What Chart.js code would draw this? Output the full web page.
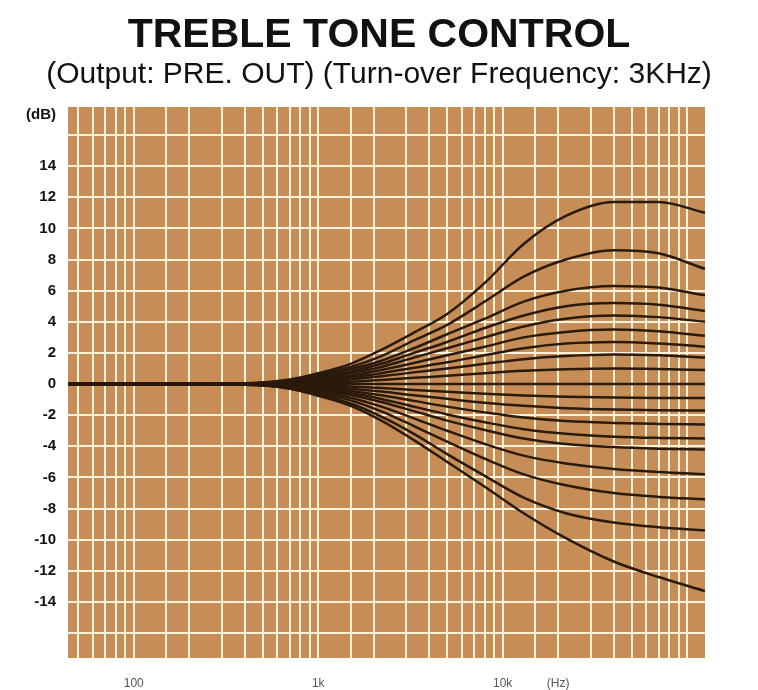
<!DOCTYPE html>
<html lang="en">

<head>
    <meta charset="UTF-8">
    <title>Treble Tone Control</title>
    <script src="https://cdn.jsdelivr.net/npm/chart.js"></script>
    <style>
        body { margin: 0; background: #fff; }
    </style>
</head>

<body>
    <canvas id="grafico" width="758" height="690"></canvas>

    <script>
        const freqs = [44, 400, 700, 1000, 1500, 2200, 3300, 5000, 8000, 13000, 22000, 40000, 70000, 125000];

        // treble boost positions (dB)
        const boost9 = [0, 0.05, 0.3, 0.7, 1.3, 2.2, 3.3, 4.5, 6.5, 9.0, 10.8, 11.7, 11.7, 11.0];
        const boost8 = [0, 0.04, 0.25, 0.6, 1.1, 1.8, 2.8, 3.8, 5.3, 6.9, 8.0, 8.6, 8.4, 7.4];
        const boost7 = [0, 0.03, 0.2, 0.5, 0.95, 1.5, 2.3, 3.2, 4.2, 5.3, 6.0, 6.3, 6.2, 5.7];
        const boost6 = [0, 0.03, 0.18, 0.42, 0.8, 1.3, 2.0, 2.7, 3.6, 4.4, 5.0, 5.2, 5.1, 4.7];
        const boost5 = [0, 0.02, 0.15, 0.36, 0.7, 1.1, 1.7, 2.3, 3.0, 3.7, 4.2, 4.4, 4.3, 4.0];
        const boost4 = [0, 0.02, 0.12, 0.3, 0.55, 0.9, 1.35, 1.85, 2.4, 3.0, 3.35, 3.5, 3.4, 3.1];
        const boost3 = [0, 0.01, 0.09, 0.22, 0.42, 0.7, 1.05, 1.4, 1.85, 2.3, 2.6, 2.7, 2.6, 2.4];
        const boost2 = [0, 0.01, 0.06, 0.15, 0.3, 0.5, 0.75, 1.0, 1.3, 1.6, 1.8, 1.9, 1.85, 1.7];
        const boost1 = [0, 0, 0.03, 0.08, 0.15, 0.26, 0.4, 0.53, 0.7, 0.85, 0.95, 1.0, 0.97, 0.9];
        const flat = [0, 0, 0, 0, 0, 0, 0, 0, 0, 0, 0, 0, 0, 0];
        // treble cut positions (dB)
        const cut1 = [0, 0, -0.03, -0.08, -0.15, -0.25, -0.38, -0.5, -0.63, -0.74, -0.82, -0.87, -0.89, -0.9];
        const cut2 = [0, -0.01, -0.06, -0.15, -0.3, -0.48, -0.72, -0.95, -1.2, -1.4, -1.55, -1.64, -1.68, -1.7];
        const cut3 = [0, -0.01, -0.09, -0.22, -0.44, -0.72, -1.08, -1.45, -1.82, -2.15, -2.38, -2.5, -2.56, -2.6];
        const cut4 = [0, -0.02, -0.12, -0.3, -0.58, -0.96, -1.45, -1.95, -2.45, -2.9, -3.2, -3.38, -3.46, -3.5];
        const cut5 = [0, -0.02, -0.14, -0.36, -0.7, -1.15, -1.74, -2.35, -2.95, -3.5, -3.85, -4.05, -4.15, -4.2];
        const cut6 = [0, -0.03, -0.18, -0.45, -0.88, -1.45, -2.2, -3.0, -3.85, -4.6, -5.1, -5.45, -5.65, -5.8];
        const cut7 = [0, -0.04, -0.22, -0.55, -1.05, -1.75, -2.7, -3.7, -4.8, -5.8, -6.5, -7.0, -7.25, -7.4];
        const cut8 = [0, -0.05, -0.26, -0.65, -1.25, -2.1, -3.2, -4.5, -5.9, -7.3, -8.3, -8.9, -9.2, -9.4];
        const cut9 = [0, -0.05, -0.3, -0.75, -1.4, -2.35, -3.6, -5.0, -6.6, -8.3, -9.9, -11.4, -12.4, -13.3];

        const curves = [boost9, boost8, boost7, boost6, boost5, boost4, boost3, boost2, boost1, flat,
            cut1, cut2, cut3, cut4, cut5, cut6, cut7, cut8, cut9];

        // axis ticks
        const freqGrid = [50, 60, 70, 80, 90, 100, 150, 200, 300, 400, 500, 600, 700, 800, 900,
            1000, 1500, 2000, 3000, 4000, 5000, 6000, 7000, 8000, 9000,
            10000, 15000, 20000, 30000, 40000, 50000, 60000, 70000, 80000, 90000, 100000];
        const freqLabelValues = [100, 1000, 10000, 20000];
        const freqLabels = ['100', '1k', '10k', '(Hz)'];
        const dbTicks = [-16, -14, -12, -10, -8, -6, -4, -2, 0, 2, 4, 6, 8, 10, 12, 14, 16];
        const dbLabels = ['', '-14', '-12', '-10', '-8', '-6', '-4', '-2', '0', '2', '4', '6', '8', '10', '12', '14', ''];
        const dbUnitPos = 17.3;

        const fundoPlot = {
            id: 'fundoPlot',
            beforeDraw(chart) {
                const a = chart.chartArea;
                const ctx = chart.ctx;
                ctx.save();
                ctx.fillStyle = '#c68d57';
                ctx.fillRect(a.left, a.top, a.right - a.left, a.bottom - a.top);
                ctx.restore();
            }
        };

        const ctx = document.getElementById('grafico').getContext('2d');
        new Chart(ctx, {
            type: 'line',
            data: {
                datasets: curves.map(c => ({
                    data: freqs.map((f, i) => ({ x: f, y: c[i] })),
                    borderColor: '#2a1a0c',
                    borderWidth: 2.5,
                    pointRadius: 0,
                    cubicInterpolationMode: 'monotone'
                }))
            },
            options: {
                responsive: false,
                animation: false,
                layout: { padding: 0 },
                plugins: {
                    legend: { display: false },
                    tooltip: { enabled: false },
                    title: {
                        display: true,
                        text: 'TREBLE TONE CONTROL',
                        color: '#111',
                        font: { family: 'Liberation Sans', size: 41, weight: 'bold', lineHeight: 1.2 },
                        padding: { top: 11, bottom: 0 }
                    },
                    subtitle: {
                        display: true,
                        text: '(Output: PRE. OUT) (Turn-over Frequency: 3KHz)',
                        color: '#111',
                        font: { family: 'Liberation Sans', size: 30, lineHeight: 1.0 },
                        padding: { top: 0, bottom: 16.8 }
                    }
                },
                scales: {
                    x: {
                        type: 'logarithmic',
                        min: 44,
                        max: 125000,
                        afterBuildTicks: s => { s.ticks = freqGrid.map(v => ({ value: v })); },
                        afterFit: s => { s.height = 32; },
                        ticks: {
                            autoSkip: false,
                            maxRotation: 0,
                            padding: 18,
                            color: '#555',
                            font: { family: 'Liberation Sans', size: 12 },
                            callback: v => {
                                const i = freqLabelValues.indexOf(v);
                                return i >= 0 ? freqLabels[i] : '';
                            }
                        },
                        grid: { color: '#fff2d8', lineWidth: 2, drawTicks: false },
                        border: { display: false }
                    },
                    y: {
                        min: -17.6,
                        max: 17.8,
                        afterBuildTicks: s => {
                            s.ticks = dbTicks.map(v => ({ value: v })).concat([{ value: dbUnitPos }]);
                        },
                        afterFit: s => { s.width = 68; },
                        ticks: {
                            autoSkip: false,
                            padding: 12,
                            color: '#111',
                            font: { family: 'Liberation Sans', size: 15, weight: 'bold' },
                            callback: (v, i) => i < dbLabels.length ? dbLabels[i] : '(dB)'
                        },
                        grid: {
                            color: c => c.tick && c.tick.value === dbUnitPos ? 'rgba(0,0,0,0)' : '#fff2d8',
                            lineWidth: 2,
                            drawTicks: false
                        },
                        border: { display: false }
                    },
                    // empty right axis, only reserves the white margin so the titles stay centred
                    margem: {
                        position: 'right',
                        min: -17.6,
                        max: 17.8,
                        afterFit: s => { s.width = 53; },
                        ticks: { display: false },
                        grid: { display: false },
                        border: { display: false }
                    }
                }
            },
            plugins: [fundoPlot]
        });
    </script>
</body>

</html>
